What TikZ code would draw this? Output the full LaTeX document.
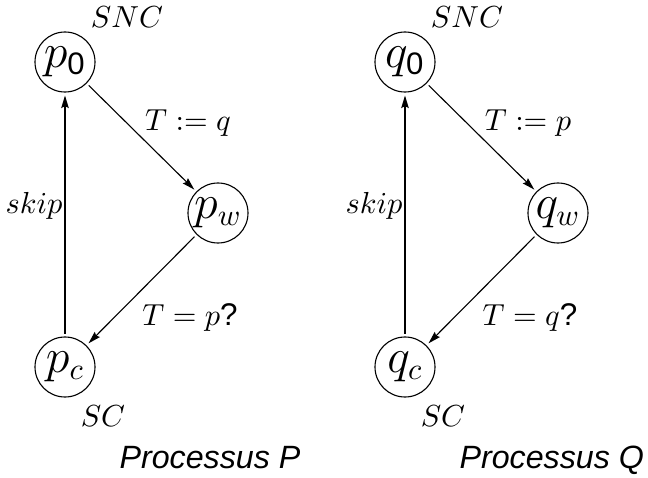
\documentclass[tikz,border=0pt]{standalone}
\usepackage{amsmath}
\usepackage{fontspec}
\setsansfont{Liberation Sans}
\usepackage{tikz}
\usetikzlibrary{arrows.meta}

\begin{document}
\begin{tikzpicture}[x=0.36pt, y=-0.36pt,
    state/.style={circle, draw, thin, minimum size=21.6pt, inner sep=0pt,
      outer sep=1.2pt, font=\fontsize{16}{18}\selectfont},
    lbl/.style={inner sep=0pt, font=\fontsize{11.3}{13}\selectfont},
    title/.style={inner sep=0pt, font=\sffamily\itshape\fontsize{11.6}{13}\selectfont},
    trans/.style={thin, -{Stealth[length=4.5pt, width=2.6pt, inset=0.6pt]}}]
  \useasboundingbox (0,0) rectangle (648,477);
  % one automaton per process, the second one shifted to the right
  \foreach \n/\m/\N/\dx in {p/q/P/0, q/p/Q/340} {
    \node[state] (\n0) at (\dx+65,62)  {$\n_{\textsf{0}}$};
    \node[state] (\n w) at (\dx+218,213) {$\n_w$};
    \node[state] (\n c) at (\dx+65,367) {$\n_c$};
    \node[lbl, anchor=base] (\n snc) at (\dx+127,27) {$SNC$};
    \node[lbl, anchor=base] (\n sc) at (\dx+103,426) {$SC$};
    \draw[trans] (\n0) -- (\n w);
    \draw[trans] (\n w) -- (\n c);
    \draw[trans, thick] (\n c) -- (\n0);
    \node[lbl, anchor=base] (\n set) at (\dx+188,130) {$T := \m$};
    \node[lbl, anchor=base] (\n test) at (\dx+190,325) {$T = \n$\textsf{?}};
    \node[lbl, anchor=base east] (\n skip) at (\dx+63,213) {$skip$};
    \node[title, anchor=base west] (\n name) at (\dx+119,468) {Processus \N};
  }
\end{tikzpicture}
\end{document}
